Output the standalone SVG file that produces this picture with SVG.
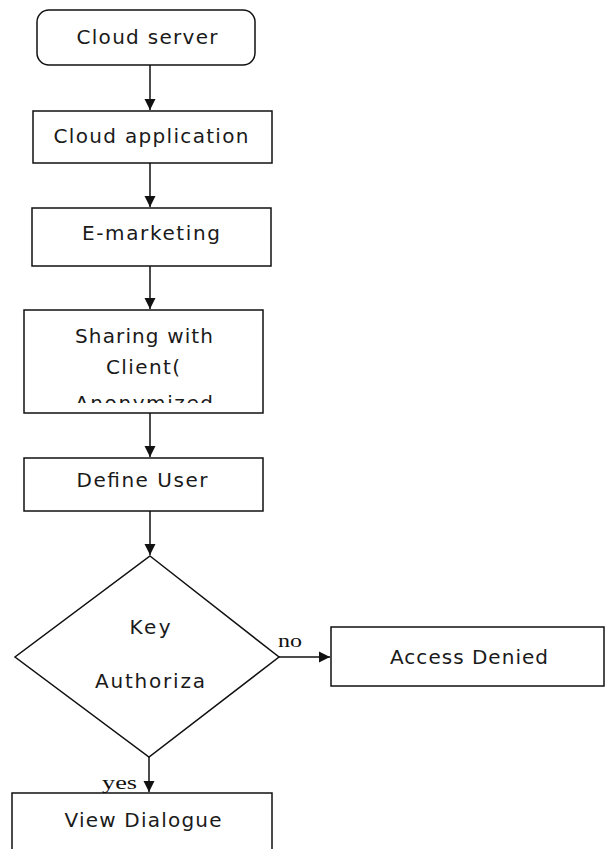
<svg xmlns="http://www.w3.org/2000/svg" width="605" height="849" viewBox="0 0 605 849">
<defs>
<style>
.box{fill:#fff;stroke:#111;stroke-width:1.5}
.t{font-family:"DejaVu Sans",Verdana,sans-serif;font-size:20px;fill:#1a1a1a;text-anchor:middle}
.s{font-family:"Liberation Serif","Times New Roman",serif;font-size:19px;fill:#111}
.c{fill:none;stroke:#111;stroke-width:1.5}
</style>
<marker id="ah" markerUnits="userSpaceOnUse" markerWidth="12" markerHeight="12" refX="11" refY="6" orient="auto">
<path d="M0,0.5 L11,6 L0,11.5 z" fill="#111"/>
</marker>
<clipPath id="clipShare"><rect x="24" y="310" width="239" height="93"/></clipPath>
</defs>
<rect width="605" height="849" fill="#fff"/>
<g id="connectors">
<line class="c" x1="150" y1="65" x2="150" y2="110" marker-end="url(#ah)"/>
<line class="c" x1="150" y1="163" x2="150" y2="207" marker-end="url(#ah)"/>
<line class="c" x1="150" y1="266" x2="150" y2="309" marker-end="url(#ah)"/>
<line class="c" x1="150" y1="413" x2="150" y2="457" marker-end="url(#ah)"/>
<line class="c" x1="150" y1="511" x2="150" y2="555" marker-end="url(#ah)"/>
<line class="c" x1="279" y1="657" x2="330" y2="657" stroke-width="2.5" marker-end="url(#ah)"/>
<line class="c" x1="149" y1="757" x2="149" y2="792" marker-end="url(#ah)"/>
<text class="s" x="278" y="647" textLength="24" lengthAdjust="spacingAndGlyphs">no</text>
<text class="s" x="102" y="789" textLength="35" lengthAdjust="spacingAndGlyphs">yes</text>
</g>
<g id="cloud-server">
<rect class="box" x="37" y="10" width="218" height="55" rx="12"/>
<text class="t" x="147" y="44" textLength="141" lengthAdjust="spacing">Cloud server</text>
</g>
<g id="cloud-application">
<rect class="box" x="33" y="111" width="239" height="52"/>
<text class="t" x="151" y="143" textLength="195" lengthAdjust="spacing">Cloud application</text>
</g>
<g id="e-marketing">
<rect class="box" x="32" y="208" width="239" height="58"/>
<text class="t" x="151" y="240" textLength="138" lengthAdjust="spacing">E-marketing</text>
</g>
<g id="sharing">
<rect class="box" x="24" y="310" width="239" height="103"/>
<text class="t" x="144" y="343" textLength="138" lengthAdjust="spacing">Sharing with</text>
<text class="t" x="143" y="374" textLength="74" lengthAdjust="spacing">Client(</text>
<text class="t" x="144" y="410" textLength="138" lengthAdjust="spacing" clip-path="url(#clipShare)">Anonymized</text>
</g>
<g id="define-user">
<rect class="box" x="24" y="458" width="239" height="53"/>
<text class="t" x="142" y="487" textLength="131" lengthAdjust="spacing">Define User</text>
</g>
<g id="key-authorization">
<polygon class="box" points="150,556 279,657 149,757 15,657"/>
<text class="t" x="150" y="634" textLength="41" lengthAdjust="spacing">Key</text>
<text class="t" x="150" y="688" textLength="110" lengthAdjust="spacing">Authoriza</text>
</g>
<g id="access-denied">
<rect class="box" x="331" y="627" width="273" height="59"/>
<text class="t" x="469" y="664" textLength="158" lengthAdjust="spacing">Access Denied</text>
</g>
<g id="view-dialogue">
<rect class="box" x="12" y="793" width="260" height="80"/>
<text class="t" x="143" y="827" textLength="157" lengthAdjust="spacing">View Dialogue</text>
</g>
</svg>
